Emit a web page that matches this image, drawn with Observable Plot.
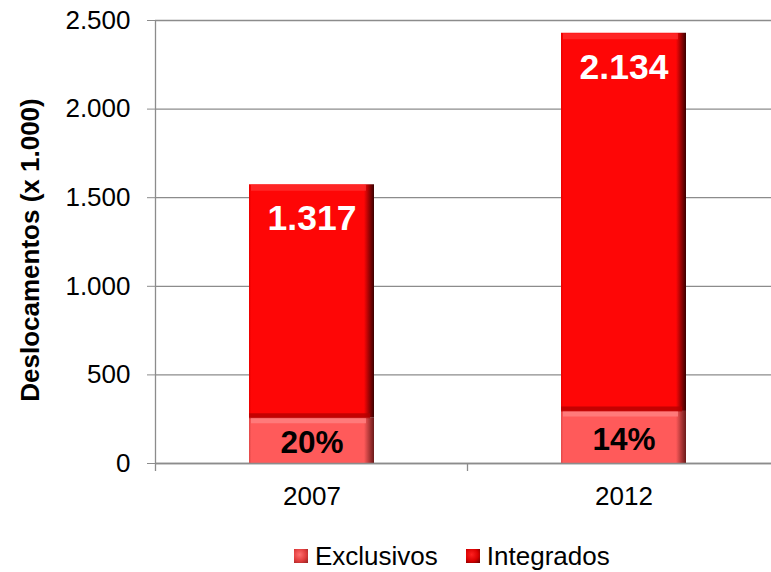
<!DOCTYPE html>
<html>
<head>
<meta charset="utf-8">
<script src="https://cdn.jsdelivr.net/npm/d3@7"></script>
<script src="https://cdn.jsdelivr.net/npm/@observablehq/plot@0.6"></script>
<style>
  html, body { margin: 0; padding: 0; background: #fff; }
  body { width: 771px; height: 572px; overflow: hidden; font-family: "Liberation Sans", Arial, sans-serif; }
  #legend { display: flex; justify-content: flex-start; align-items: center; height: 52px; font-size: 26px; color: #000; padding-left: 294px; }
  .item { display: flex; align-items: center; }
  .item + .item { margin-left: 28px; }
  .sw { width: 14px; height: 14px; margin-right: 7px; box-sizing: border-box; }
</style>
</head>
<body>
<div id="chart"></div>
<div id="legend"></div>
<script>
const years = ["2007", "2012"];
const series = ["Exclusivos", "Integrados"];
const exclusivos = [256, 294];
const integrados = [1317, 2134];
const pctLabels = ["20%", "14%"];
const yTicks = [0, 500, 1000, 1500, 2000, 2500];
const colors = ["url(#gExcl)", "url(#gInt)"];

const ptBR = d3.formatLocale({decimal: ",", thousands: ".", grouping: [3], currency: ["", ""]});
const fmt = ptBR.format(",");

const rows = [];
years.forEach((y, i) => rows.push({year: y, series: "Exclusivos", value: exclusivos[i]}));
years.forEach((y, i) => rows.push({year: y, series: "Integrados", value: integrados[i]}));

const totals = years.map((y, i) => ({year: y, total: exclusivos[i] + integrados[i], excl: exclusivos[i], label: fmt(integrados[i])}));
const exclLabels = years.map((y, i) => ({year: y, mid: exclusivos[i] / 2, label: pctLabels[i]}));

const FONT = "'Liberation Sans', Arial, sans-serif";
const GRID = "#8c8c8c";

const chart = Plot.plot({
  width: 771,
  height: 530,
  marginLeft: 155,
  marginRight: 0,
  marginTop: 20,
  marginBottom: 67,
  style: {fontFamily: FONT, fontSize: "26px", color: "#000", background: "#fff"},
  x: {domain: years, range: [155, 780], paddingInner: 0.6, paddingOuter: 0.3, label: null},
  y: {domain: [0, 2500], ticks: yTicks, label: null},
  color: {domain: series, range: colors},
  marks: [
    Plot.gridY(yTicks, {stroke: GRID, strokeOpacity: 1, strokeWidth: 1.3}),
    Plot.barY(rows, Plot.stackY({x: "year", y: "value", fill: "series", order: series})),
    // bevel highlights / shadows
    Plot.tickY(totals, {x: "year", y: "total", stroke: "#ff3c3c", strokeWidth: 6, dy: 3, strokeOpacity: 0.6, insetRight: 8, insetLeft: 2}),
    Plot.tickY(totals, {x: "year", y: "excl", stroke: "#b00000", strokeWidth: 5, dy: -2.5, strokeOpacity: 0.75, insetRight: 4}),
    Plot.tickY(totals, {x: "year", y: "excl", stroke: "#ff8282", strokeWidth: 5, dy: 2.5, strokeOpacity: 0.8, insetRight: 8, insetLeft: 2}),
    Plot.text(totals, {x: "year", y: "total", text: "label", dy: 34, fill: "#fff", fontWeight: "bold", fontSize: 35.5, fontFamily: FONT}),
    Plot.text(exclLabels, {x: "year", y: "mid", text: "label", dy: 2, fill: "#000", fontWeight: "bold", fontSize: 31.5, fontFamily: FONT}),
    Plot.axisY({ticks: yTicks, tickFormat: fmt, tickSize: 8, tickPadding: 17, stroke: GRID, fontSize: 26, label: null}),
    Plot.ruleY([0], {stroke: GRID, strokeWidth: 1.3}),
    Plot.axisX({tickSize: 0, tickPadding: 23, fontSize: 26, label: null})
  ]
});

// gradients for bevel look
const svg = d3.select(chart);
const defs = svg.insert("defs", ":first-child");
function grad(id, base, mid, edge) {
  const g = defs.append("linearGradient").attr("id", id).attr("x1", "0").attr("x2", "1").attr("y1", "0").attr("y2", "0");
  g.append("stop").attr("offset", "0%").attr("stop-color", mid);
  g.append("stop").attr("offset", "2%").attr("stop-color", base);
  g.append("stop").attr("offset", "92%").attr("stop-color", base);
  g.append("stop").attr("offset", "100%").attr("stop-color", edge);
}
grad("gInt", "#fe0606", "#e80000", "#3a0000");
grad("gExcl", "#ff5a5a", "#e04848", "#6a1a1a");

// y-axis title
svg.append("text")
  .attr("transform", "translate(39,250) rotate(-90)")
  .attr("text-anchor", "middle")
  .attr("font-size", 26).attr("font-weight", "bold")
  .attr("font-family", FONT)
  .attr("fill", "#000")
  .text("Deslocamentos (x 1.000)");

// axis line and category boundary ticks, derived from the scales
const xs = chart.scale("x");
const yS = chart.scale("y");
const step = xs.step;
const bw = xs.bandwidth;
const y0 = yS.apply(0);
const c0 = xs.apply(years[0]) + bw / 2;
const c1 = xs.apply(years[1]) + bw / 2;
const bounds = [c0 - step / 2, c0 + step / 2, c1 + step / 2];
svg.append("line").attr("x1", bounds[0]).attr("x2", bounds[0]).attr("y1", yS.apply(2500)).attr("y2", y0 + 8).attr("stroke", GRID).attr("stroke-width", 1.3);
bounds.slice(1).forEach(b => svg.append("line").attr("x1", b).attr("x2", b).attr("y1", y0).attr("y2", y0 + 8).attr("stroke", GRID).attr("stroke-width", 1.3));

document.getElementById("chart").appendChild(chart);

const swatch = [
  "radial-gradient(circle at 40% 40%, #ff7070 0%, #e03c3c 55%, #902020 100%)",
  "radial-gradient(circle at 40% 40%, #ff2020 0%, #d80000 55%, #600000 100%)"
];
const leg = document.getElementById("legend");
series.forEach((s, i) => {
  const it = document.createElement("div"); it.className = "item";
  const sw = document.createElement("div"); sw.className = "sw";
  sw.style.background = swatch[i];
  const t = document.createElement("span"); t.textContent = s;
  it.appendChild(sw); it.appendChild(t); leg.appendChild(it);
});
</script>
</body>
</html>
